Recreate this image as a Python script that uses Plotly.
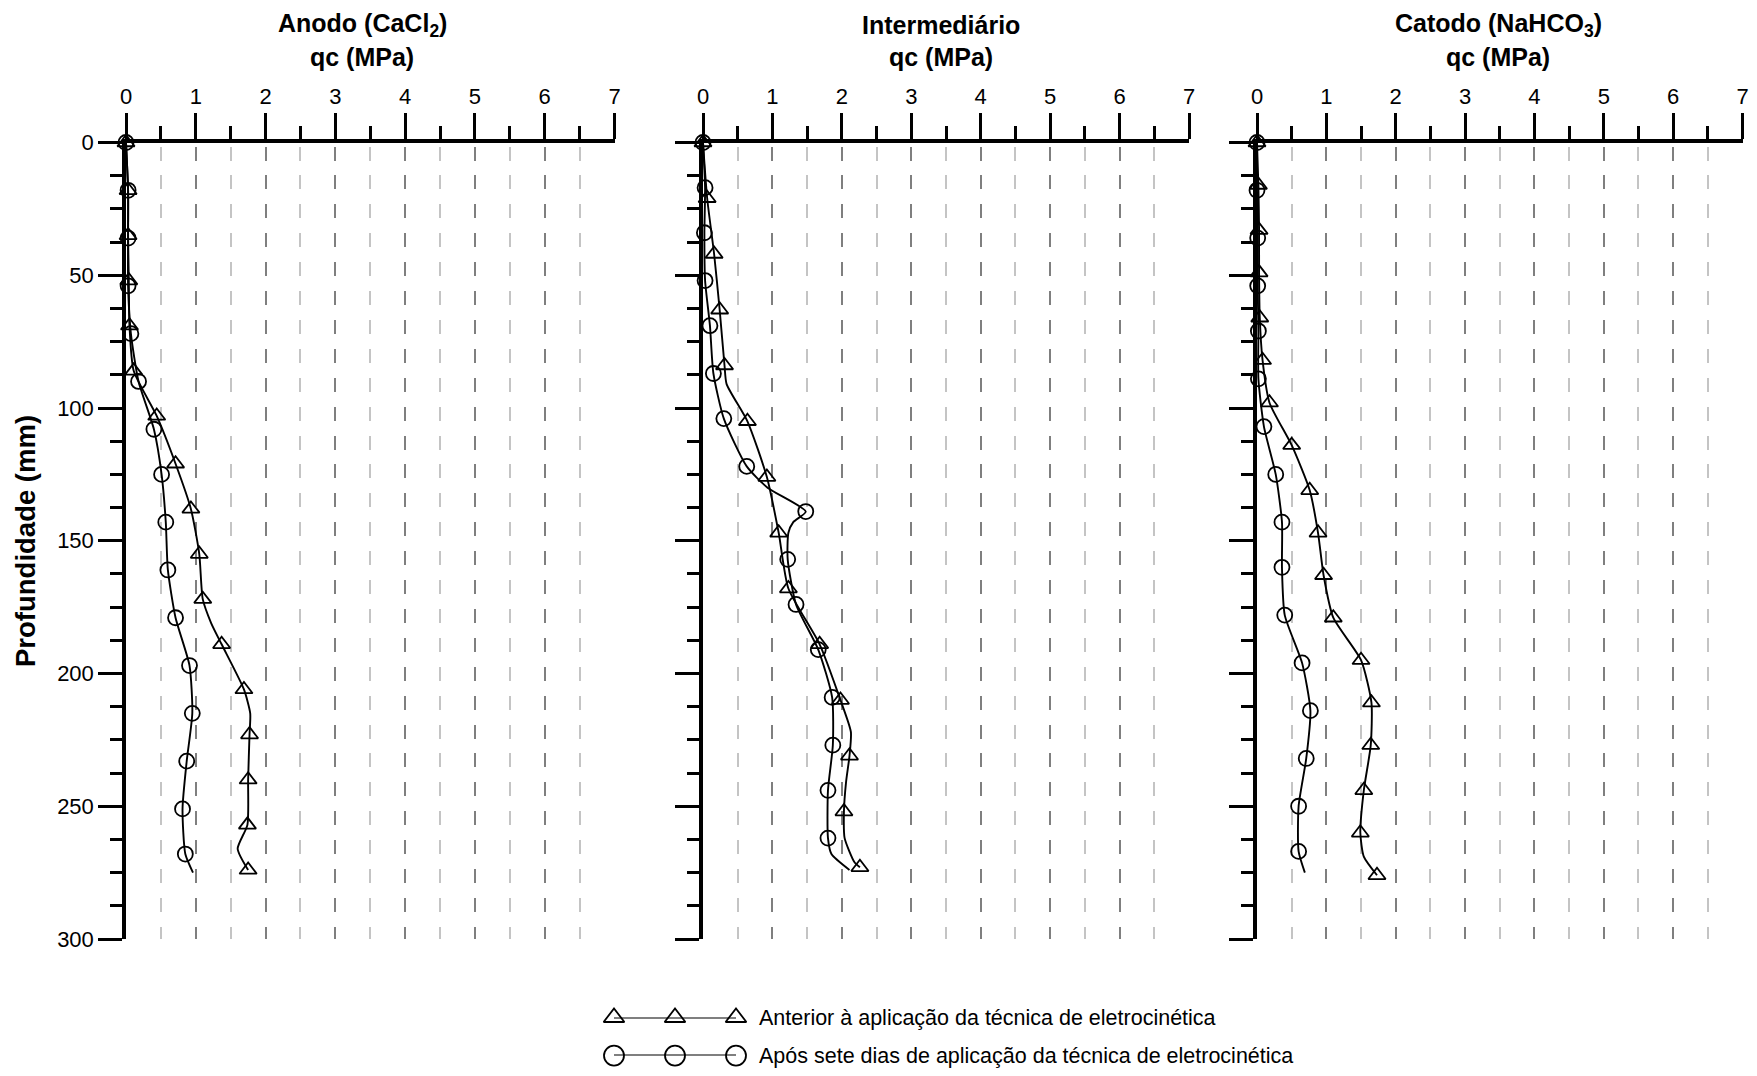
import plotly.graph_objects as go

# profundidade (mm) / qc (MPa)
# Anodo (CaCl2)
anodo_ant_prof = [0, 18, 35, 52, 69, 86, 103, 121, 138, 155, 172, 189, 206, 223, 240, 257, 274]
anodo_ant_qc = [0.0, 0.03, 0.03, 0.04, 0.05, 0.11, 0.44, 0.71, 0.93, 1.05, 1.10, 1.37, 1.69, 1.77, 1.75, 1.74, 1.75]
anodo_ant_linha_prof = [0, 18, 35, 52, 69, 86, 103, 121, 138, 155, 172, 181, 189, 206, 215, 223, 240, 257, 266, 274]
anodo_ant_linha_qc = [0.0, 0.03, 0.03, 0.04, 0.05, 0.11, 0.44, 0.71, 0.93, 1.05, 1.10, 1.22, 1.37, 1.69, 1.78, 1.77, 1.75, 1.74, 1.60, 1.75]
anodo_apos_prof = [0, 18, 36, 54, 72, 90, 108, 125, 143, 161, 179, 197, 215, 233, 251, 268]
anodo_apos_qc = [0.0, 0.03, 0.03, 0.03, 0.07, 0.18, 0.40, 0.51, 0.57, 0.60, 0.71, 0.91, 0.95, 0.87, 0.81, 0.85]
anodo_apos_linha_prof = [0, 18, 36, 54, 72, 90, 108, 125, 143, 161, 179, 197, 215, 233, 251, 268, 275]
anodo_apos_linha_qc = [0.0, 0.03, 0.03, 0.03, 0.07, 0.18, 0.40, 0.51, 0.57, 0.60, 0.71, 0.91, 0.95, 0.87, 0.81, 0.85, 0.96]

# Intermediário
inter_ant_prof = [0, 21, 42, 63, 84, 105, 126, 147, 168, 189, 210, 231, 252, 273]
inter_ant_qc = [0.0, 0.06, 0.16, 0.24, 0.31, 0.64, 0.92, 1.09, 1.23, 1.68, 1.98, 2.11, 2.03, 2.26]
inter_ant_linha_prof = [0, 21, 42, 63, 84, 91, 105, 126, 147, 168, 189, 210, 222, 231, 241, 252, 262, 271, 273]
inter_ant_linha_qc = [0.0, 0.06, 0.16, 0.24, 0.31, 0.34, 0.64, 0.92, 1.09, 1.23, 1.68, 1.98, 2.13, 2.11, 2.06, 2.03, 2.04, 2.18, 2.26]
inter_apos_prof = [0, 17, 34, 52, 69, 87, 104, 122, 139, 157, 174, 191, 209, 227, 244, 262]
inter_apos_qc = [0.0, 0.03, 0.02, 0.03, 0.10, 0.15, 0.30, 0.63, 1.48, 1.22, 1.34, 1.66, 1.86, 1.87, 1.80, 1.80]
inter_apos_linha_prof = [0, 17, 34, 52, 69, 87, 104, 122, 130, 139, 143, 147, 157, 174, 191, 209, 227, 244, 262, 268, 274]
inter_apos_linha_qc = [0.0, 0.03, 0.02, 0.03, 0.10, 0.15, 0.30, 0.63, 0.93, 1.48, 1.30, 1.23, 1.22, 1.34, 1.66, 1.86, 1.87, 1.80, 1.80, 1.85, 2.11]

# Catodo (NaHCO3)
catodo_ant_prof = [0, 16, 33, 49, 66, 82, 98, 114, 131, 147, 163, 179, 195, 211, 227, 244, 260, 276]
catodo_ant_qc = [0.0, 0.02, 0.03, 0.03, 0.04, 0.08, 0.18, 0.50, 0.76, 0.88, 0.96, 1.10, 1.50, 1.65, 1.64, 1.54, 1.49, 1.73]
catodo_ant_linha_prof = [0, 16, 33, 49, 66, 82, 98, 114, 131, 147, 163, 179, 195, 211, 227, 244, 260, 269, 276]
catodo_ant_linha_qc = [0.0, 0.02, 0.03, 0.03, 0.04, 0.08, 0.18, 0.50, 0.76, 0.88, 0.96, 1.10, 1.50, 1.65, 1.64, 1.54, 1.49, 1.54, 1.73]
catodo_apos_prof = [0, 18, 36, 54, 71, 89, 107, 125, 143, 160, 178, 196, 214, 232, 250, 267]
catodo_apos_qc = [0.0, 0.0, 0.01, 0.01, 0.02, 0.02, 0.10, 0.27, 0.36, 0.36, 0.40, 0.65, 0.77, 0.71, 0.60, 0.60]
catodo_apos_linha_prof = [0, 18, 36, 54, 71, 89, 107, 125, 143, 160, 178, 196, 214, 232, 250, 267, 275]
catodo_apos_linha_qc = [0.0, 0.0, 0.01, 0.01, 0.02, 0.02, 0.10, 0.27, 0.36, 0.36, 0.40, 0.65, 0.77, 0.71, 0.60, 0.60, 0.69]

titulos = ["Anodo (CaCl<sub>2</sub>)", "Intermediário", "Catodo (NaHCO<sub>3</sub>)"]
eixo_x_titulo = "qc (MPa)"
eixo_y_titulo = "Profundidade (mm)"
legenda_textos = [
    "Anterior à aplicação da técnica de eletrocinética",
    "Após sete dias de aplicação da técnica de eletrocinética",
]
legenda_x = [0, 1, 2]

paineis = [
    (anodo_ant_linha_prof, anodo_ant_linha_qc, anodo_ant_prof, anodo_ant_qc,
     anodo_apos_linha_prof, anodo_apos_linha_qc, anodo_apos_prof, anodo_apos_qc),
    (inter_ant_linha_prof, inter_ant_linha_qc, inter_ant_prof, inter_ant_qc,
     inter_apos_linha_prof, inter_apos_linha_qc, inter_apos_prof, inter_apos_qc),
    (catodo_ant_linha_prof, catodo_ant_linha_qc, catodo_ant_prof, catodo_ant_qc,
     catodo_apos_linha_prof, catodo_apos_linha_qc, catodo_apos_prof, catodo_apos_qc),
]

# page pixel -> paper coords (body has an 8px margin)
W, H = 1741, 1060
OFF = 8


def fx(x):
    return (x - OFF) / W


def fy(y):
    return 1 - (y - OFF) / H


FONT = "Liberation Sans, Arial, sans-serif"
DASH = "0px,4px,14px,10.9px"

dominios_x = [(126, 614.5), (703, 1189), (1257, 1742.5)]
titulo_cx = [362, 941, 1498]
y_top, y_bot = 142.5, 939

fig = go.Figure()

for i, dados in enumerate(paineis):
    (a_lp, a_lq, a_mp, a_mq, d_lp, d_lq, d_mp, d_mq) = dados
    xa = "x" if i == 0 else f"x{i + 1}"
    ya = "y" if i == 0 else f"y{i + 1}"
    for lp, lq, mp, mq, simbolo, tam in [
        (a_lp, a_lq, a_mp, a_mq, "triangle-up-open", 15),
        (d_lp, d_lq, d_mp, d_mq, "circle-open", 15),
    ]:
        fig.add_trace(go.Scatter(
            x=lq, y=lp, xaxis=xa, yaxis=ya, mode="lines",
            line=dict(color="black", width=1.9, shape="spline", smoothing=0.6),
            showlegend=False, hoverinfo="skip", cliponaxis=False,
        ))
        fig.add_trace(go.Scatter(
            x=mq, y=mp, xaxis=xa, yaxis=ya, mode="markers",
            marker=dict(symbol=simbolo, size=tam, color="black", line=dict(width=1.8, color="black")),
            showlegend=False, cliponaxis=False,
        ))

    x0, x1 = dominios_x[i]
    sufixo = "" if i == 0 else str(i + 1)
    fig.layout["xaxis" + sufixo] = dict(
        domain=[fx(x0), fx(x1)], anchor=ya, side="top", range=[0, 7], automargin=False,
        tickmode="linear", tick0=0, dtick=1, ticks="outside", ticklen=26, tickwidth=3,
        tickcolor="black", showline=True, linewidth=3.5, linecolor="black",
        showgrid=True, gridcolor="#7f7f7f", gridwidth=1.5, griddash=DASH, zeroline=False,
        tickfont=dict(family=FONT, size=22, color="black"), ticklabeloverflow="allow",
        minor=dict(dtick=0.5, tick0=0, ticks="outside", ticklen=13, tickwidth=3, tickcolor="black",
                   showgrid=True, gridcolor="#c4c4c4", gridwidth=1.5, griddash=DASH),
        fixedrange=True,
    )
    fig.layout["yaxis" + sufixo] = dict(
        domain=[fy(y_bot), fy(y_top)], anchor=xa, range=[300, 0], automargin=False,
        tickmode="linear", tick0=0, dtick=50, ticks="outside", ticklen=24, tickwidth=3,
        tickcolor="black", showline=True, linewidth=3.5, linecolor="black",
        showgrid=False, zeroline=False, showticklabels=(i == 0),
        tickfont=dict(family=FONT, size=22, color="black"),
        minor=dict(dtick=12.5, tick0=0, ticks="outside", ticklen=12, tickwidth=3, tickcolor="black"),
        fixedrange=True,
    )
    fig.add_annotation(
        text=f"<b>{titulos[i]}</b>", xref="paper", yref="paper",
        x=fx(titulo_cx[i]), y=fy(25), xanchor="center", yanchor="middle",
        showarrow=False, font=dict(family=FONT, size=25, color="black"),
    )
    fig.add_annotation(
        text=f"<b>{eixo_x_titulo}</b>", xref="paper", yref="paper",
        x=fx(titulo_cx[i]), y=fy(57.5), xanchor="center", yanchor="middle",
        showarrow=False, font=dict(family=FONT, size=25, color="black"),
    )

fig.add_annotation(
    text=f"<b>{eixo_y_titulo}</b>", xref="paper", yref="paper",
    x=fx(25), y=fy(541), xanchor="center", yanchor="middle", textangle=-90,
    showarrow=False, font=dict(family=FONT, size=27.5, color="black"),
)

# legenda desenhada num eixo próprio (3 marcadores por linha)
legenda_y = [0, 1]
for linha, simbolo, tam in [(0, "triangle-up-open", 18), (1, "circle-open", 20)]:
    fig.add_trace(go.Scatter(
        x=legenda_x, y=[legenda_y[linha]] * len(legenda_x), xaxis="x4", yaxis="y4",
        mode="lines+markers", line=dict(color="black", width=2),
        marker=dict(symbol=simbolo, size=tam, color="black", line=dict(width=1.8, color="black")),
        showlegend=False, hoverinfo="skip", cliponaxis=False,
    ))
    fig.add_annotation(
        text=legenda_textos[linha], xref="paper", yref="paper",
        x=fx(757), y=fy([1017.5, 1055.6][linha]), xanchor="left", yanchor="middle",
        showarrow=False, font=dict(family=FONT, size=21.5, color="black"),
    )
fig.layout.xaxis4 = dict(domain=[fx(614), fx(736)], anchor="y4", range=[0, 2], visible=False,
                         fixedrange=True, automargin=False)
fig.layout.yaxis4 = dict(domain=[fy(1055.6), fy(1017.5)], anchor="x4", range=[1, 0], visible=False,
                         fixedrange=True, automargin=False)

fig.update_layout(
    width=W, height=H, margin=dict(l=0, r=0, t=0, b=0, autoexpand=False),
    paper_bgcolor="white", plot_bgcolor="white",
    font=dict(family=FONT, color="black"),
)

fig.write_html("out.html")
